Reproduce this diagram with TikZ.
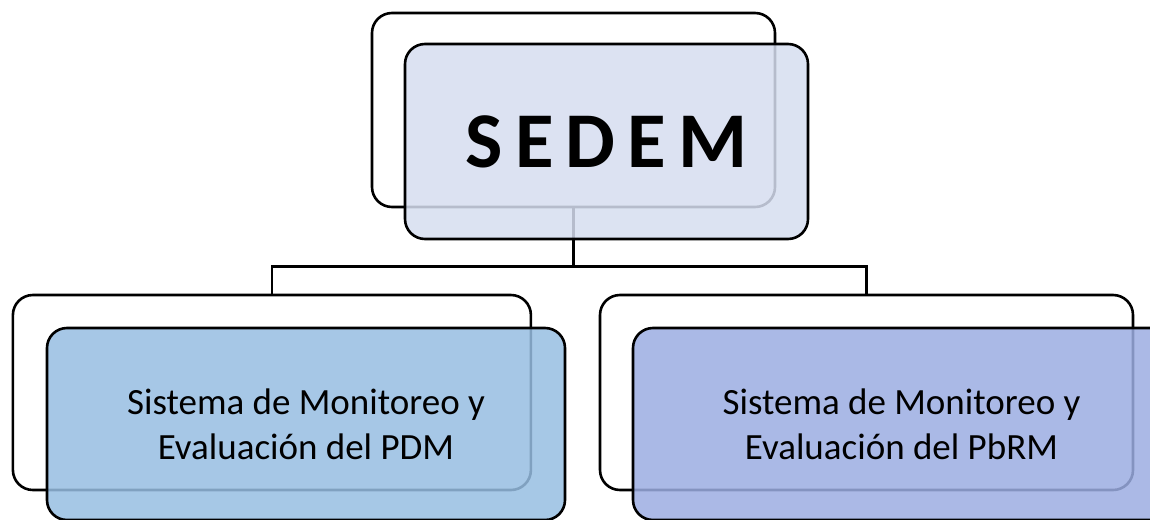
\documentclass[tikz,border=0pt]{standalone}
\usepackage{fontspec}
\setmainfont{Carlito}
\definecolor{topfill}{RGB}{214,222,240}
\definecolor{leftfill}{RGB}{151,190,226}
\definecolor{rightfill}{RGB}{156,173,226}
\tikzset{
  backbox/.style={draw=black, line width=2.6pt, rounded corners=20pt, fill=white, inner sep=0pt},
  frontbox/.style={draw=black, line width=2.6pt, rounded corners=20pt, fill opacity=0.85, text opacity=1, inner sep=0pt, align=center},
  conn/.style={draw=black, line width=2.6pt},
  toptext/.style={font=\fontsize{79}{84}\selectfont\bfseries},
  subtext/.style={font=\fontsize{37}{45}\selectfont}
}
\newcommand{\gp}{\hspace{12pt}}
\begin{document}
\begin{tikzpicture}[x=1pt,y=-1pt]
\useasboundingbox (0,0) rectangle (1150,519);
\clip (0,0) rectangle (1150,519);
% back boxes
\node[backbox, minimum width=403pt, minimum height=194pt] (topback) at (573.5,110) {};
\node[backbox, minimum width=518pt, minimum height=195pt] (lback) at (271.9,392.5) {};
\node[backbox, minimum width=533pt, minimum height=195pt] (rback) at (866.5,392.5) {};
% connectors
\coordinate (j) at (573.5,266.7);
\draw[conn] (topback.south) -- (j);
\draw[conn] (lback.north) |- (j) -| (rback.north);
% front boxes
\node[frontbox, fill=topfill, minimum width=403pt, minimum height=195pt, toptext] (topfront) at (606.5,141.5) {S\gp E\gp D\gp E\gp M};
\node[frontbox, fill=leftfill, minimum width=518pt, minimum height=192pt, subtext] (lfront) at (306,424) {Sistema de Monitoreo y\\Evaluación del PDM};
\node[frontbox, fill=rightfill, minimum width=537pt, minimum height=192pt, subtext] (rfront) at (901.5,424) {Sistema de Monitoreo y\\Evaluación del PbRM};
\end{tikzpicture}
\end{document}
